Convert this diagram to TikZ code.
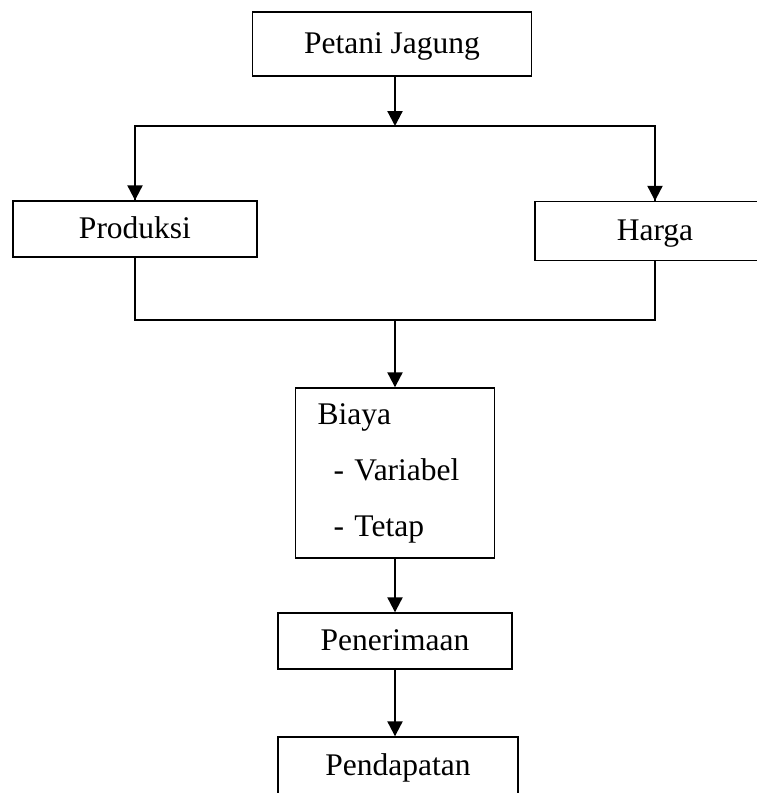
\documentclass[tikz,border=0pt]{standalone}
\usepackage{fontspec}
\setmainfont{Liberation Serif}
\usetikzlibrary{arrows.meta}
\usetikzlibrary{positioning}

\tikzset{
  box/.style={draw, line width=1.4pt, rectangle, inner sep=0pt,
    text height=22pt, text depth=4pt},
  flow/.style={line width=2.2pt, -{Triangle[length=15pt,width=15pt]}},
  link/.style={line width=2.2pt}
}

\begin{document}
\begin{tikzpicture}[x=1pt, y=-1pt, font=\fontsize{31.5}{56}\selectfont]
\useasboundingbox (0,0) rectangle (757,793);

    % the boxes of the chart
    \node[box, minimum width=279pt, minimum height=64pt] (petani) at (392,44) {Petani Jagung};
    \node[box, minimum width=244pt, minimum height=56pt] (produksi) at (135,229) {Produksi};
    \node[box, minimum width=240pt, minimum height=59pt] (harga) at (655,231) {Harga};
    \node[box, minimum width=199pt, minimum height=170pt, align=left,
      text width=155pt, inner xsep=22pt, text height=, text depth=] (biaya) at (395,473)
      {Biaya\\ \hspace*{16pt}- Variabel\\ \hspace*{16pt}- Tetap};
    \node[box, minimum width=234pt, minimum height=56pt] (penerimaan) at (395,641) {Penerimaan};
    \node[box, minimum width=240pt, minimum height=58pt] (pendapatan) at (398,766) {Pendapatan};

    % branching and joining points
    \coordinate (split) at (395,126);
    \coordinate (join) at (395,320);

    \draw[flow] (petani.south -| split) -- (split);
    \draw[link] (split) -| (produksi.north);
    \draw[link] (split) -| (harga.north);
    \draw[flow] (produksi.north |- split) -- (produksi.north);
    \draw[flow] (harga.north |- split) -- (harga.north);

    \draw[link] (produksi.south) |- (join) -| (harga.south);
    \draw[flow] (join) -- (biaya.north);

    \draw[flow] (biaya.south) -- (penerimaan.north);
    \draw[flow] (penerimaan.south) -- (penerimaan.south |- pendapatan.north);

\end{tikzpicture}
\end{document}
